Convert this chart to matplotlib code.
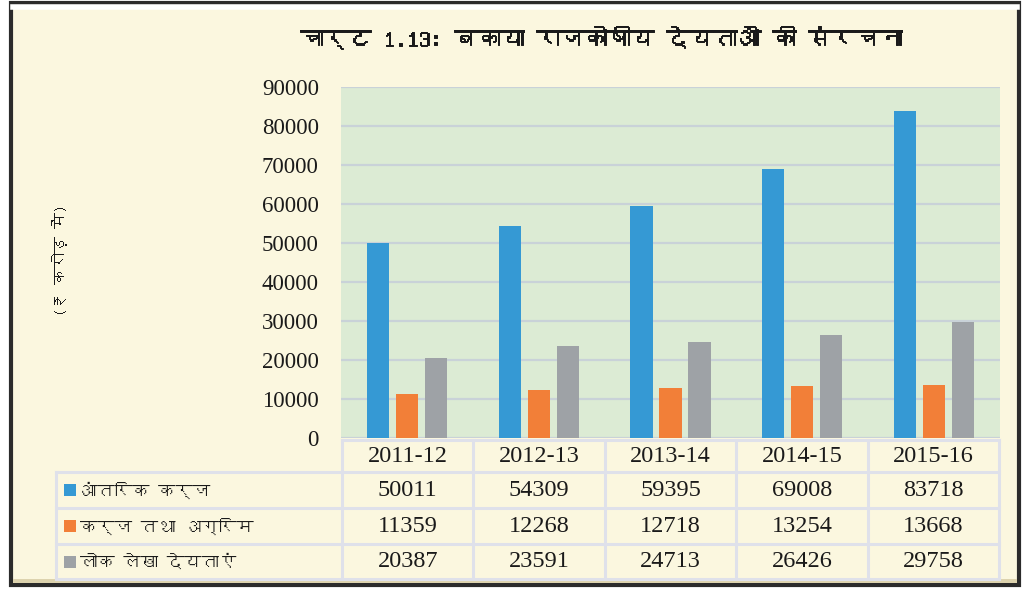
"""Chart 1.13: composition of outstanding fiscal liabilities (bars + data table)."""

import matplotlib
matplotlib.use("Agg")
import matplotlib.pyplot as plt
import matplotlib.patheffects as pe
import numpy as np
from matplotlib import font_manager
from matplotlib.ft2font import FT2Font
from matplotlib.patches import Rectangle

YEARS = ["2011-12", "2012-13", "2013-14", "2014-15", "2015-16"]
SERIES = ["आंतरिक कर्ज", "कर्ज तथा अग्रिम", "लोक लेखा देयताएं"]
INTERNAL_DEBT = [50011, 54309, 59395, 69008, 83718]
LOANS_ADVANCES = [11359, 12268, 12718, 13254, 13668]
PUBLIC_ACCOUNT = [20387, 23591, 24713, 26426, 29758]
COLORS = ["#3599d4", "#f27f38", "#9ea2a6"]
TITLE = "चार्ट 1.13: बकाया राजकोषीय देयताओं की संरचना"
YLABEL = "(₹ करोड़ में)"

W, H = 1025, 591


def find_font(ch):
    # look for any installed family that can draw the given character
    for f in font_manager.fontManager.ttflist:
        if "CJK" in f.name:
            continue
        try:
            if ord(ch) in FT2Font(f.fname).get_charmap():
                return f.name
        except Exception:
            pass
    return None


DEVA = find_font("क")
SANS = [DEVA, "DejaVu Sans"] if DEVA else ["DejaVu Sans"]
SERIF = ["Liberation Serif", "DejaVu Serif"]


def fx(x):
    return x / W


def fy(y):
    return 1 - y / H


def main():
    fig = plt.figure(figsize=(W / 100, H / 100), dpi=100)
    fig.patch.set_facecolor("white")

    # outer frame
    fig.patches.append(Rectangle((fx(11), fy(585)), fx(1019) - fx(11), fy(3) - fy(585),
                                 transform=fig.transFigure, fc="#fbf7df", ec="#2b2b2b",
                                 lw=3, zorder=-2))
    fig.patches.append(Rectangle((fx(13), fy(579)), fx(1017) - fx(13), fy(583) - fy(579),
                                 transform=fig.transFigure, fc="#ddd3ae", ec="none",
                                 zorder=-1))
    fig.lines.append(plt.Line2D([fx(13), fx(1017)], [fy(7), fy(7)], transform=fig.transFigure,
                                color="white", lw=4, zorder=-1))

    ax = fig.add_axes([fx(341), fy(438), fx(1000) - fx(341), fy(87) - fy(438)])
    ax.set_zorder(2)
    ax.set_facecolor("#dcebd4")
    x = np.arange(len(YEARS))
    width = 0.167
    step = 0.22
    for i, (vals, col) in enumerate(zip([INTERNAL_DEBT, LOANS_ADVANCES, PUBLIC_ACCOUNT], COLORS)):
        ax.bar(x + (i - 1) * step, vals, width, color=col, zorder=3)
    ax.set_xlim(-0.5, len(YEARS) - 0.5)
    ax.set_ylim(0, 90000)
    ax.set_yticks(np.arange(0, 90001, 10000))
    ax.yaxis.grid(True, color="#c9d2d8", lw=1.6, zorder=1)
    ax.set_axisbelow(True)
    ax.set_xticks([])
    ax.tick_params(axis="y", length=0, pad=16)
    for lab in ax.get_yticklabels():
        lab.set_fontfamily(SERIF)
        lab.set_fontsize(16.5)
        lab.set_color("#1a1a1a")
    for s in ax.spines.values():
        s.set_visible(False)

    fig.text(fx(601), fy(38), TITLE, ha="center", va="center", fontsize=17,
             fontweight="bold", family=SANS + SERIF, color="#1a1a1a",
             path_effects=[pe.withStroke(linewidth=0.7, foreground="#1a1a1a")])
    fig.text(fx(60), fy(260), YLABEL, ha="center", va="center", rotation=90,
             fontsize=11.5, family=SANS, color="#1a1a1a")

    # data table under the plot
    grid = dict(transform=fig.transFigure, color="#dfe1ea", lw=2.2, zorder=2)
    cols = np.linspace(342, 999, len(YEARS) + 1)
    rows = [440, 472, 508, 544, 579]
    fig.lines.append(plt.Line2D([fx(342), fx(999)], [fy(rows[0])] * 2, **grid))
    for r in rows[1:]:
        fig.lines.append(plt.Line2D([fx(56), fx(999)], [fy(r)] * 2, **grid))
    fig.lines.append(plt.Line2D([fx(56), fx(56)], [fy(rows[1]), fy(rows[-1])], **grid))
    for c in cols:
        fig.lines.append(plt.Line2D([fx(c), fx(c)], [fy(rows[0]), fy(rows[-1])], **grid))

    centers = (cols[:-1] + cols[1:]) / 2
    for cx, yr in zip(centers, YEARS):
        fig.text(fx(cx), fy(456), yr, ha="center", va="center", fontsize=17.5,
                 family=SERIF, color="#1a1a1a")
    data = [INTERNAL_DEBT, LOANS_ADVANCES, PUBLIC_ACCOUNT]
    for k, (name, vals, col) in enumerate(zip(SERIES, data, COLORS)):
        yc = (rows[k + 1] + rows[k + 2]) / 2
        fig.patches.append(Rectangle((fx(64), fy(yc + 6)), fx(12), fy(0) - fy(12),
                                     transform=fig.transFigure, fc=col, ec="none", zorder=3))
        fig.text(fx(80), fy(yc), name, ha="left", va="center", fontsize=12.5,
                 family=SANS, color="#1a1a1a")
        for cx, v in zip(centers, vals):
            fig.text(fx(cx), fy(yc), f"{v}", ha="center", va="center", fontsize=17.5,
                     family=SERIF, color="#1a1a1a")

    fig.savefig("out.png", dpi=100, facecolor=fig.get_facecolor())


if __name__ == "__main__":
    main()
